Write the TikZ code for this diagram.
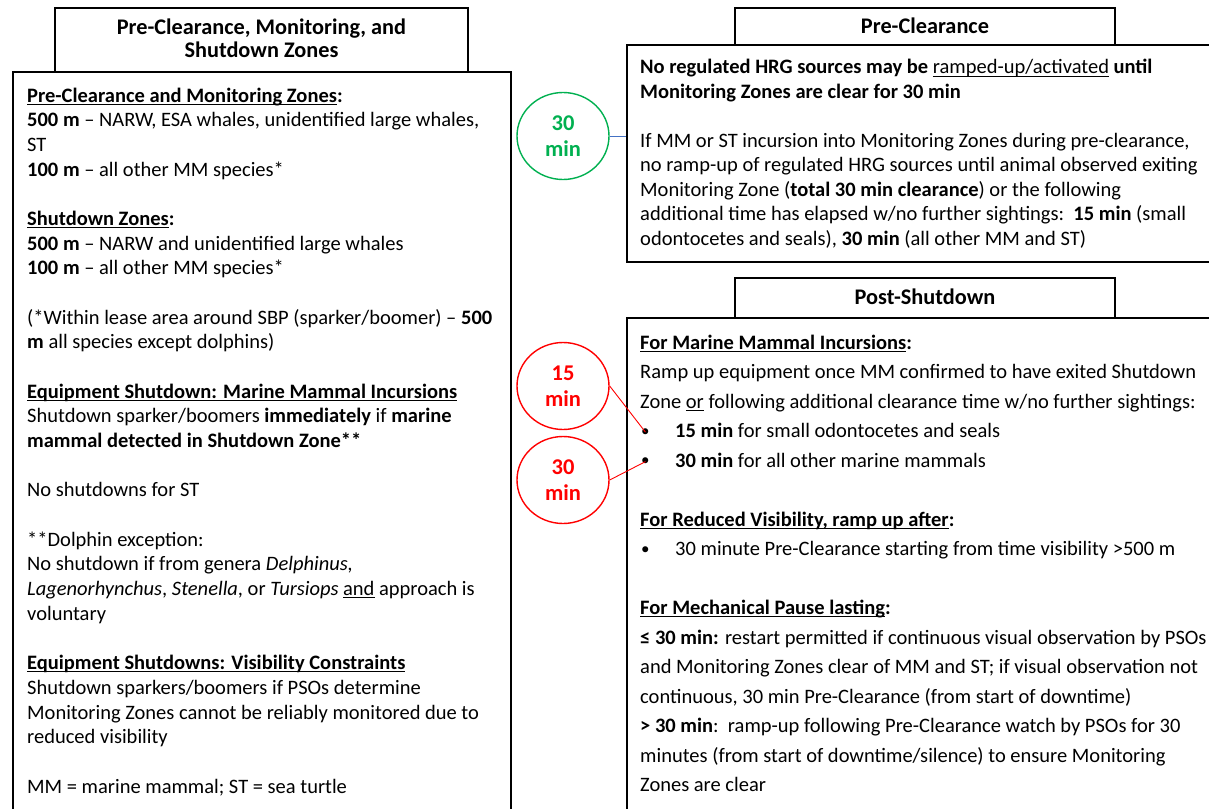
\documentclass[tikz,border=0pt]{standalone}
\usepackage{fontspec}
\setmainfont{Carlito}
\usetikzlibrary{shapes.geometric}
\definecolor{okgreen}{HTML}{00B050}
\definecolor{okred}{HTML}{FF0000}
\definecolor{okblue}{HTML}{4472C4}
\newcommand{\myul}[1]{\leavevmode\setbox0\hbox{#1}\makebox[0pt][l]{\rule[-2.8pt]{\wd0}{1.2pt}}\box0\relax}
\newcommand{\ub}[1]{\myul{\textbf{#1}}}
\tikzset{
  frame/.style={draw, line width=2.3pt, rectangle, inner sep=0pt},
  headtxt/.style={inner sep=0pt, align=center, font=\fontsize{22.3}{23}\selectfont\bfseries},
  bodytxt/.style={inner sep=0pt, anchor=base west},
  ring/.style={ellipse, draw, line width=1.4pt, inner sep=0pt, minimum width=92pt, minimum height=87pt, align=center, font=\fontsize{22.5}{26}\selectfont\bfseries},
  bul/.style={inner sep=0pt, anchor=base west, font=\fontsize{17}{20}\selectfont},
  redline/.style={draw=okred, line width=0.9pt},
  blueline/.style={draw=okblue, line width=0.9pt}
}
\begin{document}
\begin{tikzpicture}[x=1pt,y=-1pt]
\clip (0,0) rectangle (1209,808);
\fill[white] (0,0) rectangle (1209,808);
% boxes
\node[frame, minimum width=413pt, minimum height=64pt] (lh) at (261.5,40) {};
\node[frame, minimum width=498pt, minimum height=758pt] (lm) at (262,451) {};
\node[frame, minimum width=380pt, minimum height=37pt] (rh1) at (925,26.5) {};
\node[frame, minimum width=603pt, minimum height=217pt] (rm1) at (928.5,153.5) {};
\node[frame, minimum width=380pt, minimum height=40pt] (rh2) at (925,298) {};
\node[frame, minimum width=603pt, minimum height=512pt] (rm2) at (928.5,574) {};
% headers
\node[headtxt, anchor=base] (lht) at (261.5,57) {Pre-Clearance, Monitoring, and\\Shutdown Zones};
\node[headtxt, anchor=base] (rht1) at (925,34) {Pre-Clearance};
\node[headtxt, anchor=base] (rht2) at (925,304) {Post-Shutdown};
% left text
\node[bodytxt] (ltext) at (27,102) {\parbox[t]{480pt}{\raggedright\fontsize{20.5}{24.68}\selectfont
\ub{Pre-Clearance and Monitoring Zones}\textbf{:}\\
\textbf{500 m} – NARW, ESA whales, unidentified large whales,\\
ST\\
\textbf{100 m} – all other MM species*\\[\baselineskip]
\ub{Shutdown Zones}\textbf{:}\\
\textbf{500 m} – NARW and unidentified large whales\\
\textbf{100 m} – all other MM species*\\[\baselineskip]
(*Within lease area around SBP (sparker/boomer) – \textbf{500}\\
\textbf{m} all species except dolphins)\\[\baselineskip]
\ub{Equipment Shutdown: Marine Mammal Incursions}\\
Shutdown sparker/boomers \textbf{immediately} if \textbf{marine}\\
\textbf{mammal detected in Shutdown Zone**}\\[\baselineskip]
No shutdowns for ST\\[\baselineskip]
**Dolphin exception:\\
No shutdown if from genera \textit{Delphinus,}\\
\textit{Lagenorhynchus}, \textit{Stenella}, or \textit{Tursiops} \myul{and} approach is\\
voluntary\\[\baselineskip]
\ub{Equipment Shutdowns: Visibility Constraints}\\
Shutdown sparkers/boomers if PSOs determine\\
Monitoring Zones cannot be reliably monitored due to\\
reduced visibility\\[\baselineskip]
MM = marine mammal; ST = sea turtle}};
% right text 1
\node[bodytxt] (rtext1) at (640,74) {\parbox[t]{620pt}{\raggedright\fontsize{20.5}{24.43}\selectfont
\textbf{No regulated HRG sources may be} \myul{ramped-up/activated} \textbf{until}\\
\textbf{Monitoring Zones are clear for 30 min}\\[\baselineskip]
If MM or ST incursion into Monitoring Zones during pre-clearance,\\
no ramp-up of regulated HRG sources until animal observed exiting\\
Monitoring Zone (\textbf{total 30 min clearance}) or the following\\
additional time has elapsed w/no further sightings:\ \ \textbf{15 min} (small\\
odontocetes and seals), \textbf{30 min} (all other MM and ST)}};
% right text 2
\node[bodytxt] (rtext2) at (640,349) {\parbox[t]{620pt}{\raggedright\fontsize{20.5}{29.5}\selectfont
\ub{For Marine Mammal Incursions}\textbf{:}\\
Ramp up equipment once MM confirmed to have exited Shutdown\\
Zone \myul{or} following additional clearance time w/no further sightings:\\
\hspace*{35pt}\textbf{15 min} for small odontocetes and seals\\
\hspace*{35pt}\textbf{30 min} for all other marine mammals\\[\baselineskip]
\ub{For Reduced Visibility, ramp up after}\textbf{:}\\
\hspace*{35pt}30 minute Pre-Clearance starting from time visibility >500 m\\[\baselineskip]
\ub{For Mechanical Pause lasting}\textbf{:}\\
\textbf{≤ 30 min:} restart permitted if continuous visual observation by PSOs\\
and Monitoring Zones clear of MM and ST; if visual observation not\\
continuous, 30 min Pre-Clearance (from start of downtime)\\
\textbf{> 30 min}:\ \ ramp-up following Pre-Clearance watch by PSOs for 30\\
minutes (from start of downtime/silence) to ensure Monitoring\\
Zones are clear}};
% bullets
\node[bul] (b1) at (641,436) {•};
\node[bul] (b2) at (641,465.5) {•};
\node[bul] (b3) at (641,554) {•};
% circles
\node[ring, draw=okgreen, text=okgreen] (g30) at (563,136) {30\\min};
\node[ring, draw=okred, text=okred] (r15) at (563,386) {15\\min};
\node[ring, draw=okred, text=okred] (r30) at (563,480) {30\\min};
% connectors
\draw[blueline] (g30.east) -- (g30.east -| rm1.west);
\draw[redline] (r15.east) -- (b1.center);
\draw[redline] (r30.east) -- (b2.center);
\end{tikzpicture}
\end{document}
